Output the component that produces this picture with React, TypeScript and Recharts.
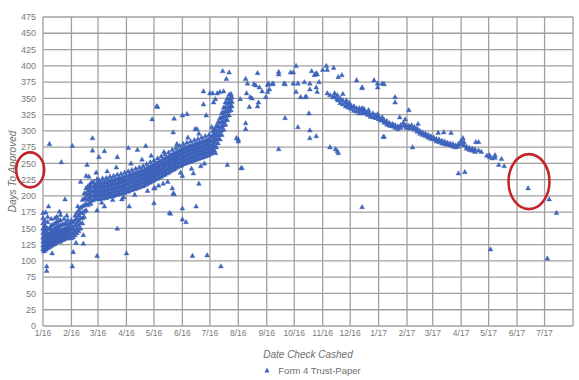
import React from "react";
import {
  ScatterChart, Scatter, XAxis, YAxis, CartesianGrid, Legend, ReferenceDot,
} from "recharts";

// x = days since 1/1/16 (date check cashed), y = days to approved

// month starts used as x ticks
const monthStarts = [0, 31, 60, 91, 121, 152, 182, 213, 244, 274, 305, 335, 366, 397, 425, 456, 486, 517, 547, 578];
const monthLabels = ["1/16", "2/16", "3/16", "4/16", "5/16", "6/16", "7/16", "8/16", "9/16", "10/16", "11/16", "12/16",
  "1/17", "2/17", "3/17", "4/17", "5/17", "6/17", "7/17", ""];
const dayTicks = [0, 25, 50, 75, 100, 125, 150, 175, 200, 225, 250, 275, 300, 325, 350, 375, 400, 425, 450, 475];

// dense band, 2016: [day, ...values on that day]
const band2016: number[][] = [
  [0, 118, 124, 130, 136, 143, 150, 158, 166, 174],
  [1, 115, 121, 127, 133, 140, 147],
  [2, 117, 123, 129, 135, 141, 148, 155, 162],
  [3, 118, 124, 130, 138, 146, 153],
  [4, 120, 126, 132, 139, 145],
  [5, 120, 126, 133, 140, 150, 160, 168],
  [6, 121, 127, 134, 141],
  [7, 122, 128, 134, 142, 149],
  [8, 123, 129, 136, 143, 152],
  [9, 124, 130, 137, 145, 155, 165],
  [10, 125, 131, 138, 146],
  [11, 126, 132, 140, 148, 156],
  [12, 126, 133, 139, 145],
  [13, 127, 134, 142, 150, 158, 166],
  [14, 128, 135, 141, 148],
  [15, 130, 137, 145, 153, 160, 168],
  [16, 131, 137, 143, 150],
  [17, 132, 139, 146, 154, 162],
  [18, 130, 136, 143, 150],
  [19, 130, 138, 146, 155, 163, 171],
  [20, 132, 139, 145],
  [21, 133, 140, 148, 156],
  [22, 133, 140, 147],
  [23, 134, 141, 149, 157, 165],
  [24, 135, 142, 148],
  [25, 136, 143, 150, 158],
  [26, 135, 142, 149],
  [27, 135, 142, 149, 156, 163],
  [28, 137, 144, 151],
  [29, 138, 145, 152, 159],
  [31, 135, 142, 149, 156, 163],
  [33, 137, 144, 151, 160],
  [35, 140, 147, 155, 163, 170],
  [37, 143, 150, 158, 166, 174],
  [39, 146, 154, 162, 170, 178],
  [41, 150, 158, 166, 174, 182],
  [43, 158, 166, 174, 184, 194],
  [45, 168, 176, 186, 196, 204],
  [47, 178, 188, 196, 204, 212],
  [49, 186, 194, 201, 208, 215],
  [51, 190, 197, 204, 211, 218],
  [53, 193, 200, 207, 214, 221],
  [55, 194, 201, 208, 215, 222],
  [57, 196, 203, 210, 217],
  [59, 196, 202, 208, 214, 220, 226],
  [61, 195, 201, 207, 213, 219, 225],
  [63, 197, 203, 209, 215, 221],
  [65, 196, 202, 208, 214, 220, 227],
  [67, 198, 204, 210, 216, 222],
  [69, 197, 203, 209, 215, 221, 228],
  [71, 199, 205, 211, 217, 223],
  [73, 199, 205, 211, 217, 223, 230],
  [75, 201, 207, 213, 219, 225],
  [77, 200, 206, 212, 218, 224, 231],
  [79, 202, 208, 214, 220, 226],
  [81, 202, 208, 214, 220, 226, 233],
  [83, 204, 210, 216, 222, 228],
  [85, 203, 209, 215, 221, 227, 234],
  [87, 205, 211, 217, 223, 229],
  [89, 205, 211, 217, 223, 229, 236],
  [91, 207, 213, 219, 225, 231],
  [93, 207, 213, 219, 225, 231, 238],
  [95, 209, 215, 221, 227, 233],
  [97, 209, 215, 221, 227, 233, 240],
  [99, 211, 217, 223, 229, 235],
  [101, 211, 217, 223, 229, 235, 242],
  [103, 213, 219, 225, 231, 237],
  [105, 213, 219, 225, 231, 237, 244],
  [107, 215, 221, 227, 233, 239],
  [109, 215, 221, 227, 233, 239, 246],
  [111, 217, 223, 229, 235, 241],
  [113, 218, 224, 230, 236, 242, 249],
  [115, 220, 226, 232, 238, 244],
  [117, 221, 227, 233, 239, 245, 252],
  [119, 223, 229, 235, 241, 247],
  [121, 224, 230, 236, 242, 248, 255],
  [123, 226, 232, 238, 244, 250],
  [125, 227, 233, 239, 245, 251, 258],
  [127, 229, 235, 241, 247, 253],
  [129, 230, 236, 242, 248, 254, 261],
  [131, 232, 238, 244, 250, 256],
  [133, 233, 239, 245, 251, 257, 264],
  [135, 235, 241, 247, 253, 259],
  [137, 236, 242, 248, 254, 260, 267],
  [139, 238, 244, 250, 256, 262],
  [141, 240, 246, 252, 258, 264, 271],
  [143, 241, 247, 253, 259, 265],
  [145, 243, 249, 255, 261, 267, 274],
  [147, 245, 251, 257, 263, 269],
  [149, 246, 252, 258, 264, 270, 277],
  [151, 247, 253, 259, 265, 271],
  [153, 249, 255, 261, 267, 273, 280],
  [155, 250, 256, 262, 268, 274],
  [157, 251, 257, 263, 269, 275, 282],
  [159, 252, 258, 264, 270, 276],
  [161, 253, 259, 265, 271, 277, 284],
  [163, 254, 260, 266, 272, 278],
  [165, 255, 261, 267, 273, 279, 286],
  [167, 256, 262, 268, 274, 280],
  [169, 257, 263, 269, 275, 281, 288],
  [171, 258, 264, 270, 276, 282],
  [173, 259, 265, 271, 277, 283, 290],
  [175, 260, 266, 272, 278, 284],
  [177, 261, 267, 273, 279, 285, 292],
  [179, 262, 268, 274, 280, 286],
  [181, 263, 269, 275, 281, 287, 294],
  [183, 265, 271, 277, 284, 291],
  [185, 267, 273, 279, 286, 293, 300],
  [187, 270, 277, 283, 289, 296, 303],
  [189, 275, 282, 288, 294, 301, 308],
  [191, 281, 288, 294, 300, 307, 314],
  [193, 287, 294, 300, 306, 313, 320],
  [195, 294, 301, 307, 314, 321, 328],
  [197, 302, 309, 315, 322, 329, 336],
  [199, 310, 317, 323, 330, 337, 344],
  [201, 317, 324, 330, 336, 343, 350],
  [203, 324, 331, 337, 343, 349, 356],
  [205, 332, 339, 345, 351, 357],
  [206, 338, 345, 352],
];

// thinner band, late 2016 - mid 2017
const band2017: number[][] = [
  [318, 352, 358], [321, 349, 355], [324, 343, 350], [327, 341, 347], [330, 338, 344],
  [333, 336, 341], [336, 334, 339], [339, 331, 337], [342, 330, 335], [345, 332, 327],
  [348, 333, 328], [351, 327, 331], [354, 325, 329], [357, 326, 322], [360, 327, 321],
  [363, 320, 324], [366, 318, 322], [369, 316, 319], [372, 313, 317], [375, 314, 310],
  [378, 312, 308], [381, 307, 311], [384, 305, 309], [387, 307, 303], [390, 309, 305],
  [393, 313, 308], [396, 309, 305], [399, 308, 304], [402, 309, 304], [405, 302, 306],
  [408, 299, 304], [411, 296, 300], [414, 294, 298], [417, 292, 296], [420, 290, 294],
  [423, 288, 292], [426, 287, 290], [429, 284, 288], [432, 283, 287], [435, 281, 285],
  [438, 280, 284], [441, 279, 282], [444, 278, 281], [447, 276, 280], [450, 275, 278],
  [453, 280, 276], [456, 285, 280], [459, 283, 278], [462, 273, 276], [465, 271, 274],
  [468, 270, 273], [471, 272, 268], [475, 283, 270], [478, 268], [484, 262],
  [487, 260, 263], [490, 258], [493, 263, 259], [497, 248], [500, 257], [503, 246],
];

// scattered single cases: [day, value]
const scattered: number[][] = [
  [7, 280], [20, 252], [32, 277], [54, 289], [54, 270], [61, 260], [67, 269], [81, 260], [93, 274],
  [103, 271], [112, 277], [119, 318], [125, 337], [143, 319], [152, 324], [157, 326], [166, 303],
  [142, 298], [48, 248], [41, 222], [47, 231], [24, 195], [3, 175], [6, 184], [4, 92], [4, 85],
  [32, 92], [33, 114], [44, 127], [44, 140], [59, 108], [59, 178], [67, 184], [81, 150], [86, 195],
  [94, 184], [91, 112], [121, 189], [121, 212], [131, 219], [139, 173], [143, 203], [152, 181],
  [152, 164], [156, 160], [163, 108], [167, 184], [179, 109], [194, 92], [124, 338], [175, 341],
  [182, 358], [190, 358], [178, 324], [168, 303], [213, 287], [201, 248], [172, 246], [164, 235],
  [170, 219], [152, 231], [142, 204], [141, 212], [122, 212], [138, 174],
  [196, 392], [203, 390], [200, 380], [175, 361], [185, 358], [193, 360], [197, 361], [186, 344],
  [188, 349], [215, 349], [221, 312], [221, 303], [211, 289], [216, 243],
  [221, 380], [234, 389], [223, 373], [230, 372], [236, 367], [239, 361], [228, 350], [235, 344],
  [234, 338], [245, 371], [246, 373], [247, 364], [251, 373], [245, 360], [257, 391], [257, 387],
  [270, 390], [273, 390], [276, 400], [263, 373], [273, 373], [278, 373], [285, 375], [276, 360],
  [286, 352], [291, 373], [296, 386], [298, 389], [301, 375], [305, 394], [309, 400], [310, 394],
  [317, 397], [322, 383], [326, 386], [298, 367], [291, 364], [299, 360], [310, 358], [316, 352],
  [321, 349], [327, 357], [331, 347], [334, 343], [339, 338], [342, 378], [348, 366], [345, 335],
  [350, 334], [355, 332], [361, 378], [365, 373], [370, 373], [365, 326], [370, 321], [375, 315],
  [382, 309], [384, 344], [372, 291], [222, 358], [226, 352], [243, 352], [232, 370], [264, 372],
  [250, 372], [281, 352], [287, 353], [313, 355], [322, 347], [225, 337], [293, 392], [299, 387],
  [290, 327], [264, 320], [278, 306], [291, 301], [298, 292], [291, 289], [257, 272], [313, 275],
  [319, 272], [321, 269], [322, 266], [213, 284], [217, 243],
  [348, 367], [365, 367], [384, 352], [399, 332], [389, 321], [395, 318], [409, 311], [431, 297],
  [437, 298], [445, 297], [348, 335], [371, 291], [403, 275], [453, 235], [460, 237], [348, 183],
  [372, 372], [458, 289], [472, 283], [529, 212], [552, 195], [560, 174], [488, 118], [550, 104],
  // near-band cases, 2016
  [10, 112], [18, 176], [26, 170], [36, 128], [38, 184], [50, 230], [52, 188], [58, 236],
  [64, 190], [70, 238], [76, 194], [80, 244], [88, 198], [96, 250], [100, 202], [108, 256],
  [114, 208], [118, 262], [126, 216], [132, 268], [136, 222], [146, 280], [150, 236], [158, 290],
  [162, 242], [170, 296], [176, 250], [184, 306], [188, 266],
];

// red annotation ellipses (centre as day / value)
const circleDays = [-14, 530];
const circleValues = [240, 222];

const points = [
  ...band2016.flatMap(([d, ...vs]) => vs.map((v) => ({ x: d, y: v }))),
  ...band2017.flatMap(([d, ...vs]) => vs.map((v) => ({ x: d, y: v }))),
  ...scattered.map(([d, v]) => ({ x: d, y: v })),
];

const BLUE = "#3e67c4";
const GRID = "#a0a0a0";
const TEXT = "#7a7a7a";
const FONT = "'Liberation Sans', Arial, sans-serif";

function Tri(props: any) {
  const { cx, cy } = props;
  if (cx == null || cy == null) return null;
  return (
    <polygon
      points={`${cx},${cy - 2.5} ${cx - 2.4},${cy + 1.8} ${cx + 2.4},${cy + 1.8}`}
      fill={BLUE}
      stroke="#3a5aa8"
      strokeWidth={0.4}
    />
  );
}

function makeEllipse(rx: number, ry: number) {
  return (props: any) => (
    <ellipse cx={props.cx} cy={props.cy} rx={rx} ry={ry} fill="none" stroke="#c4252b" strokeWidth={2.6} />
  );
}

function YTitle(props: any) {
  const vb = props.viewBox || {};
  const cy = vb.y + vb.height / 2;
  return (
    <text x={12} y={cy} transform={`rotate(-90, 12, ${cy})`} textAnchor="middle" dominantBaseline="central"
      fill="#6e6e6e" fontSize={10} fontStyle="italic" fontFamily={FONT}>
      Days To Approved
    </text>
  );
}

function LegendBox() {
  return (
    <div style={{ height: 20, display: "flex", alignItems: "center", justifyContent: "center", paddingLeft: 52,
      fontFamily: FONT, fontSize: 9.5, color: "#6e6e6e" }}>
      <svg width={6} height={6} style={{ marginRight: 8 }}>
        <polygon points="3,0.5 0.5,5.5 5.5,5.5" fill={BLUE} />
      </svg>
      <span>Form 4 Trust-Paper</span>
    </div>
  );
}

export default function App() {
  return (
    <div style={{ position: "absolute", left: 0, top: 0, width: 579, height: 380, background: "#fff" }}>
      <ScatterChart width={579} height={380} margin={{ top: 17, right: 6, left: 0, bottom: 0 }}>
        <CartesianGrid stroke={GRID} strokeWidth={1.3} />
        <XAxis
          type="number"
          dataKey="x"
          domain={[0, 578]}
          ticks={monthStarts}
          tickFormatter={(v: number) => monthLabels[monthStarts.indexOf(v)] ?? ""}
          interval={0}
          height={34}
          axisLine={false}
          tickLine={false}
          tickSize={0}
          tickMargin={4}
          tick={{ fill: TEXT, fontSize: 8.5, fontFamily: FONT }}
          label={{ value: "Date Check Cashed", position: "insideBottom", offset: 2, fill: "#6e6e6e",
            fontSize: 10, fontStyle: "italic", fontFamily: FONT }}
        />
        <YAxis
          type="number"
          dataKey="y"
          domain={[0, 475]}
          ticks={dayTicks}
          interval={0}
          width={43}
          axisLine={false}
          tickLine={false}
          tickSize={0}
          tickMargin={7}
          tick={{ fill: TEXT, fontSize: 9, fontFamily: FONT }}
          label={<YTitle />}
        />
        <Legend verticalAlign="bottom" height={20} content={<LegendBox />} />
        <Scatter name="Form 4 Trust-Paper" data={points} fill={BLUE} shape={<Tri />} isAnimationActive={false} />
        <ReferenceDot x={circleDays[0]} y={circleValues[0]} ifOverflow="visible" shape={makeEllipse(14, 17.5)} />
        <ReferenceDot x={circleDays[1]} y={circleValues[1]} ifOverflow="visible" shape={makeEllipse(20.5, 27.5)} />
      </ScatterChart>
    </div>
  );
}
